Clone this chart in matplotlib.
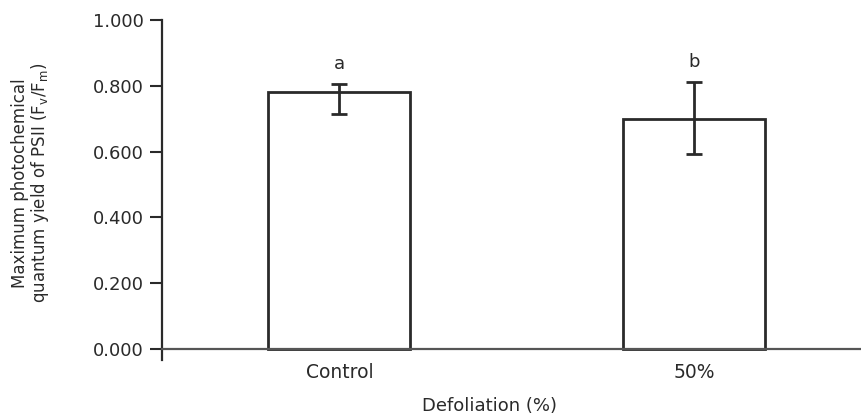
import matplotlib
matplotlib.use("Agg")
import matplotlib.pyplot as plt
import numpy as np

categories = ["Control", "50%"]
means = [0.781, 0.699]
err_lower = [0.067, 0.106]
err_upper = [0.024, 0.112]
letters = ["a", "b"]
yticks = [0.0, 0.2, 0.4, 0.6, 0.8, 1.0]

plt.rcParams['font.family'] = ['DejaVu Sans']

fig = plt.figure(figsize=(8.62, 4.17), dpi=100)
ax = fig.add_axes([162/862, 57/417, 700/862, 340/417])

dark = '#2a2a2a'
for s in ['top', 'right']:
    ax.spines[s].set_visible(False)
ax.spines['left'].set_color(dark)
ax.spines['left'].set_linewidth(1.6)
ax.spines['bottom'].set_position(('data', 0))
ax.spines['bottom'].set_color('#555555')
ax.spines['bottom'].set_linewidth(1.6)

x = np.arange(len(categories))
ax.bar(x, means, width=0.4, color='white', edgecolor=dark, linewidth=2.0, zorder=2)
ax.errorbar(x, means, yerr=[err_lower, err_upper], fmt='none', ecolor=dark,
            elinewidth=2.0, capsize=6, capthick=2.0, zorder=3)
for xi, m, up, lab in zip(x, means, err_upper, letters):
    ax.annotate(lab, (xi, m + up), xytext=(0, 8), textcoords='offset points',
                ha='center', va='bottom', fontsize=13, color=dark)

ax.set_xlim(-0.5, 1.473)
ax.set_ylim(-0.033, 1.0)
ax.set_yticks(yticks)
ax.set_yticklabels([f"{v:.3f}" for v in yticks])
ax.set_xticks(x)
ax.set_xticklabels(categories)
ax.tick_params(axis='x', length=0, pad=10, labelsize=13.5, labelcolor=dark)
ax.tick_params(axis='y', length=9, width=1.5, color=dark, pad=4, labelsize=13, labelcolor=dark)

ax.set_xlabel("Defoliation (%)", fontsize=13, color=dark)
ax.xaxis.set_label_coords((490 - 162) / 700, -0.108)
ax.set_ylabel("Maximum photochemical\nquantum yield of PSII (F$_\\mathregular{v}$/F$_\\mathregular{m}$)",
              fontsize=12, color=dark, linespacing=1.0)
ax.yaxis.set_label_coords(-0.158, 0.52)

fig.savefig("out.png", dpi=100)
